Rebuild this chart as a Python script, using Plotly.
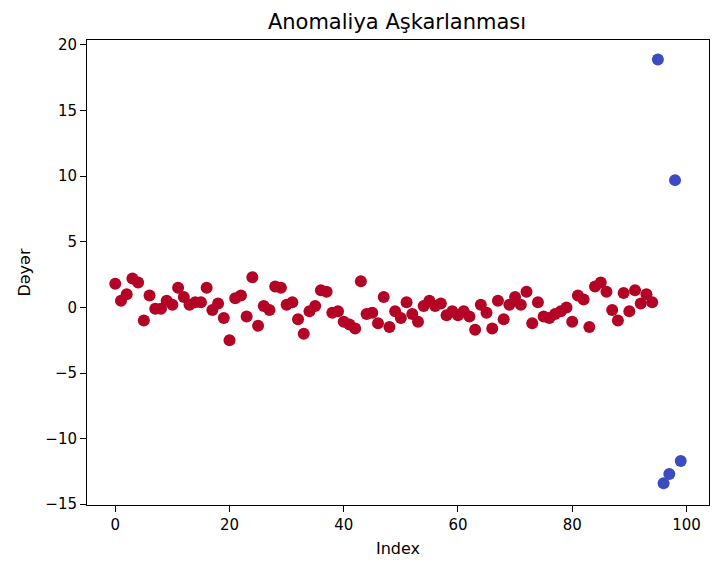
import plotly.graph_objects as go

index = list(range(100))
values = [1.8, 0.5, 1.0, 2.2, 1.9, -1.0, 0.9, -0.1, -0.1, 0.5,
          0.2, 1.5, 0.8, 0.2, 0.4, 0.4, 1.5, -0.2, 0.3, -0.8,
          -2.5, 0.7, 0.9, -0.7, 2.3, -1.4, 0.1, -0.2, 1.6, 1.5,
          0.2, 0.4, -0.9, -2.0, -0.3, 0.1, 1.3, 1.2, -0.4, -0.3,
          -1.1, -1.3, -1.6, 2.0, -0.5, -0.4, -1.2, 0.8, -1.5, -0.3,
          -0.8, 0.4, -0.5, -1.1, 0.1, 0.5, 0.1, 0.3, -0.6, -0.3,
          -0.6, -0.3, -0.7, -1.7, 0.2, -0.4, -1.6, 0.5, -0.9, 0.2,
          0.8, 0.2, 1.2, -1.2, 0.4, -0.7, -0.8, -0.5, -0.3, 0.0,
          -1.1, 0.9, 0.6, -1.5, 1.6, 1.9, 1.2, -0.2, -1.0, 1.1,
          -0.3, 1.3, 0.3, 1.0, 0.4, 18.9, -13.4, -12.7, 9.7, -11.7]
# 1 = normal, -1 = anomaly
labels = [1] * 95 + [-1] * 5

colors = ["#b40426" if l == 1 else "#3b4cc0" for l in labels]

fig = go.Figure()
fig.add_trace(go.Scatter(
    x=index, y=values, mode="markers",
    marker=dict(color=colors, size=12, line=dict(width=0)),
    showlegend=False,
))

axis_common = dict(
    showline=True, linecolor="black", linewidth=1, mirror=True,
    ticks="outside", ticklen=6, tickcolor="black", showgrid=False,
    zeroline=False, tickfont=dict(size=15, color="black"),
)

fig.update_layout(
    width=720, height=571,
    margin=dict(l=87, r=11, t=40, b=66),
    paper_bgcolor="white", plot_bgcolor="white",
    font=dict(family="DejaVu Sans", color="black"),
    title=dict(text="Anomaliya Aşkarlanması", x=397 / 720, xanchor="center",
               y=1 - 22 / 571, yanchor="middle", font=dict(size=21)),
    xaxis=dict(range=[-4.95, 103.95], tickvals=[0, 20, 40, 60, 80, 100],
               title=dict(text="Index", standoff=9, font=dict(size=16, color="black")),
               **axis_common),
    yaxis=dict(range=[-15.06, 20.38], tickvals=[-15, -10, -5, 0, 5, 10, 15, 20],
               title=dict(text="Dəyər", standoff=10, font=dict(size=16, color="black")),
               **axis_common),
)

fig.write_html("out.html")
